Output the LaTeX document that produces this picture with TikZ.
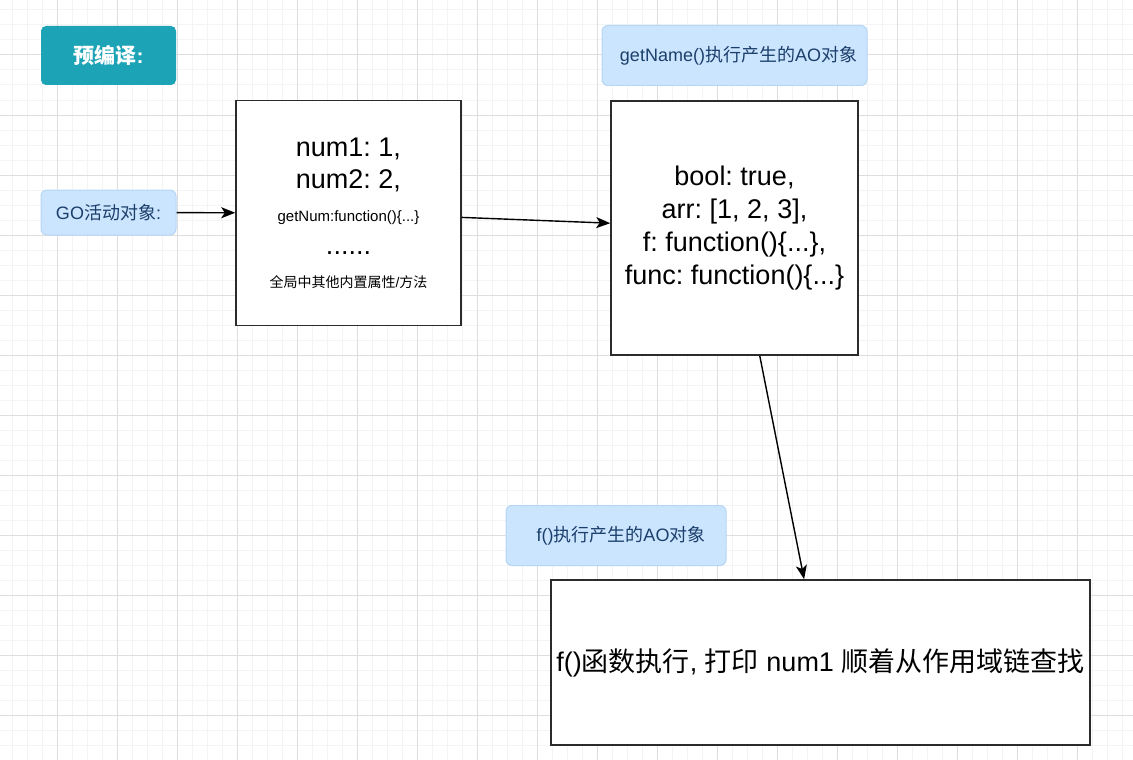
\documentclass[tikz,border=0pt]{standalone}
\usepackage{fontspec}
\setmainfont{Liberation Sans}
\newfontfamily\cjk{Noto Sans CJK SC}
\newcommand{\zh}[1]{{\cjk #1}}
\usepackage{xcolor}
\definecolor{gridminor}{HTML}{F4F4F4}
\definecolor{gridmajor}{HTML}{DEDEDE}
\definecolor{tagfill}{HTML}{CCE5FF}
\definecolor{tagline}{HTML}{B5D6F7}
\definecolor{tagtext}{HTML}{1B3F6B}
\definecolor{titlefill}{HTML}{1CA3B6}
\definecolor{boxline}{HTML}{2B2B2B}
\usepackage{tikz}
\usetikzlibrary{arrows.meta,positioning}
\frenchspacing

\begin{document}
\begin{tikzpicture}[x=1pt,y=-1pt,
  objbox/.style={draw=boxline,line width=1.5pt,fill=white,inner sep=0pt,align=center,
    font=\fontsize{27}{32.75}\selectfont},
  tagbox/.style={draw=tagline,line width=1pt,fill=tagfill,rounded corners=6pt,inner sep=0pt,
    text=tagtext,font=\fontsize{18}{21}\selectfont},
  titlebox/.style={fill=titlefill,rounded corners=5pt,inner sep=0pt,text=white,
    font=\fontsize{21}{25}\selectfont\bfseries},
  link/.style={draw=black,line width=1.4pt,-{Stealth[length=14pt,width=11pt,inset=3.5pt]}}]
\useasboundingbox (0,0) rectangle (1133,760);
% background grid
\fill[white] (0,0) rectangle (1133,760);
\foreach \gx in {12,27,...,1133} \draw[gridminor,line width=1pt] (\gx,0) -- (\gx,760);
\foreach \gy in {10,25,...,760} \draw[gridminor,line width=1pt] (0,\gy) -- (1133,\gy);
\foreach \gx in {57,117,...,1133} \draw[gridmajor,line width=1pt] (\gx,0) -- (\gx,760);
\foreach \gy in {55,115,...,760} \draw[gridmajor,line width=1pt] (0,\gy) -- (1133,\gy);

\node[titlebox,minimum width=135pt,minimum height=59pt] (title) at (108.5,55.5) {\zh{预编译}:};
\node[tagbox,minimum width=135pt,minimum height=45pt] (goTag) at (108.5,212.5) {GO\zh{活动对象}:};
\node[objbox,minimum width=225pt,minimum height=225pt] (goObj) at (348.5,213) {%
num1: 1,\\
num2: 2,\\
{\fontsize{15}{32.75}\selectfont getNum:function()\{...\}}\\
......\\
{\fontsize{14}{32.75}\selectfont\zh{全局中其他内置属性}/\zh{方法}}};

\node[tagbox,minimum width=265pt,minimum height=60pt] (getNameTag) at (734.5,55.5) {\hspace*{8pt}getName()\zh{执行产生的}AO\zh{对象}};
\node[objbox,minimum width=247pt,minimum height=254pt] (getNameObj) at (734.5,228) {%
bool: true,\\
arr: [1, 2, 3],\\
f: function()\{...\},\\
func: function()\{...\}};

\node[tagbox,minimum width=220pt,minimum height=60pt] (fTag) at (616,535.5) {\hspace*{10pt}f()\zh{执行产生的}AO\zh{对象}};
\node[objbox,minimum width=539pt,minimum height=165pt] (fObj) at (820.5,662.5) {f()\zh{函数执行}, \zh{打印} num1 \zh{顺着从作用域链查找}};

\draw[link] (goTag) -- (goObj);
\draw[link] (goObj) -- (getNameObj);
\draw[link] (getNameObj) -- (fObj);
\end{tikzpicture}
\end{document}
